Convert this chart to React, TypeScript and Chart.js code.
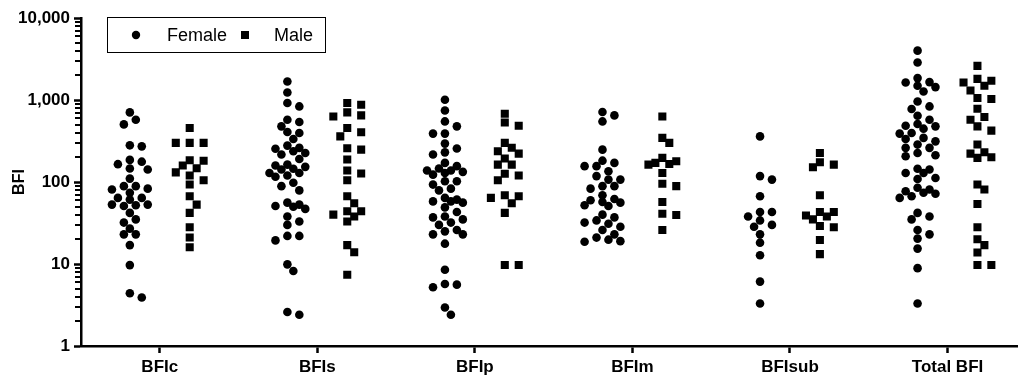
import React, { useEffect, useRef } from 'react';
import { Chart, registerables } from 'chart.js';

Chart.register(...registerables);

const categories = ['BFIc', 'BFIs', 'BFIp', 'BFIm', 'BFIsub', 'Total BFI'];
const yTickLabels = ['1', '10', '100', '1,000', '10,000'];

const femaleBFIc = [706, 575, 504, 280, 272, 186, 177, 165, 146, 142, 110, 89, 89, 83, 81, 74, 64, 64, 61, 53, 53, 52, 51, 42, 35, 32, 27, 23, 23, 17, 9.7, 4.4, 3.9];
const maleBFIc = [456, 300, 300, 300, 184, 182, 159, 147, 131, 120, 105, 93, 67, 53, 42, 28, 21, 16];

const femaleBFIs = [1683, 1236, 918, 835, 575, 540, 477, 407, 396, 335, 278, 261, 254, 237, 226, 216, 191, 163, 159, 153, 145, 142, 129, 129, 120, 116, 98, 89, 79, 56, 53, 51, 50, 47, 38, 33, 30, 22, 22, 19.4, 9.9, 8.2, 2.6, 2.4];
const maleBFIs = [918, 875, 706, 649, 630, 456, 404, 360, 258, 248, 188, 138, 127, 105, 67, 55, 44, 44, 40, 38, 33, 17, 13.9, 7.4];

const femaleBFIp = [1007, 746, 548, 477, 389, 389, 294, 256, 230, 216, 171, 156, 146, 138, 138, 133, 129, 123, 102, 102, 93, 83, 79, 64, 61, 58, 58, 56, 49, 43, 38, 37, 35, 32, 30, 26, 25, 23, 23, 17.7, 8.5, 5.7, 5.6, 5.2, 2.95, 2.4];
const maleBFIp = [680, 533, 486, 300, 261, 237, 222, 193, 163, 163, 126, 120, 105, 69, 67, 64, 55, 42, 9.7, 9.7];

const femaleBFIm = [713, 649, 548, 248, 182, 171, 156, 156, 135, 118, 107, 107, 89, 89, 83, 69, 62, 60, 57, 56, 52, 51, 40, 37, 34, 32, 31, 28.5, 26, 23, 21, 19.8, 19, 18.7];
const maleBFIm = [630, 345, 300, 197, 179, 171, 166, 163, 129, 95, 89, 57, 41, 39.5, 26];

const femaleBFIsub = [360, 118, 107, 67, 43, 43, 38, 34, 30, 28.5, 23, 18.2, 12.8, 6.1, 3.3];
const maleBFIsub = [226, 174, 163, 151, 69, 43, 43, 39, 38, 35, 29, 28, 19.6, 13.2];

const femaleTotal = [4000, 2862, 1850, 1652, 1636, 1489, 1437, 1270, 960, 835, 776, 643, 575, 510, 486, 477, 447, 396, 389, 345, 335, 313, 286, 261, 261, 226, 212, 206, 145, 142, 129, 129, 112, 109, 85, 81, 77, 74, 72, 67, 64, 42, 38, 35, 26, 23, 20.4, 15.4, 8.9, 3.3];
const maleTotal = [2606, 1811, 1714, 1636, 1489, 1306, 1055, 1026, 783, 620, 575, 477, 423, 286, 230, 222, 200, 197, 93, 81, 54, 28, 20, 17, 13.8, 9.7, 9.7];

const femaleGroups = [femaleBFIc, femaleBFIs, femaleBFIp, femaleBFIm, femaleBFIsub, femaleTotal];
const maleGroups = [maleBFIc, maleBFIs, maleBFIp, maleBFIm, maleBFIsub, maleTotal];

const FONT = '"Liberation Sans", Arial, Helvetica, sans-serif';

// Deterministic beeswarm spread (pixel-ish units) converted to category units
const PX_PER_DECADE = 82;
const PX_PER_CAT = 158.5;
function swarm(values: number[], center: number, step: number, diam: number, maxSteps: number) {
  const idx = values.map((v, i) => i).sort((a, b) => values[b] - values[a]);
  const placed: { dx: number; y: number }[] = [];
  const out: { x: number; y: number }[] = [];
  for (const i of idx) {
    const y = Math.log10(values[i]) * PX_PER_DECADE;
    let chosen = 0;
    let bestScore = -1;
    for (let k = 0; k <= maxSteps * 2; k++) {
      const m = k === 0 ? 0 : (k % 2 === 1 ? (k + 1) / 2 : -k / 2);
      const dx = m * step;
      let minD = Infinity;
      for (const p of placed) {
        const ddx = dx - p.dx;
        const ddy = y - p.y;
        minD = Math.min(minD, Math.sqrt(ddx * ddx + ddy * ddy));
      }
      if (minD >= diam) { chosen = dx; break; }
      if (minD > bestScore) { bestScore = minD; chosen = dx; }
    }
    placed.push({ dx: chosen, y });
    out.push({ x: center + chosen / PX_PER_CAT, y: values[i] });
  }
  return out;
}

const legendPlugin = {
  id: 'boxLegend',
  afterDraw(chart: any) {
    const ctx = chart.ctx;
    ctx.save();
    ctx.strokeStyle = '#000';
    ctx.lineWidth = 1;
    ctx.strokeRect(107.5, 17.5, 218, 35);
    const cy = 35;
    ctx.fillStyle = '#000';
    ctx.beginPath();
    ctx.arc(136, cy, 4.2, 0, Math.PI * 2);
    ctx.fill();
    ctx.fillRect(241, cy - 4, 8, 8);
    ctx.font = `18px ${FONT}`;
    ctx.textBaseline = 'middle';
    ctx.textAlign = 'left';
    ctx.fillText('Female', 167, cy + 1);
    ctx.fillText('Male', 274, cy + 1);
    ctx.restore();
  },
};

// Minor log ticks on the y axis (2..9 in each decade)
const minorTickPlugin = {
  id: 'minorTicks',
  afterDraw(chart: any) {
    const y = chart.scales.y;
    const ctx = chart.ctx;
    const x0 = chart.chartArea.left;
    ctx.save();
    ctx.fillStyle = '#000';
    for (let d = 0; d < 4; d++) {
      for (let s = 2; s <= 9; s++) {
        const v = s * Math.pow(10, d);
        const py = Math.round(y.getPixelForValue(v));
        ctx.fillRect(x0 - 6, py - 1, 6, 2);
      }
    }
    ctx.restore();
  },
};

export default function App() {
  const ref = useRef<HTMLCanvasElement>(null);
  useEffect(() => {
    document.body.style.margin = '0';
    const femaleData: any[] = [];
    const maleData: any[] = [];
    femaleGroups.forEach((g, i) => femaleData.push(...swarm(g, i - 0.19, 6, 8, 3)));
    maleGroups.forEach((g, i) => maleData.push(...swarm(g, i + 0.19, 7, 8.5, 2)));
    const isMajor = (v: number) => Math.abs(Math.log10(v) - Math.round(Math.log10(v))) < 1e-9;
    const chart = new Chart(ref.current!, {
      type: 'scatter',
      data: {
        datasets: [
          {
            label: 'Female',
            data: femaleData,
            pointStyle: 'circle',
            pointRadius: 4.3,
            backgroundColor: '#000',
            borderColor: '#000',
            borderWidth: 0,
          },
          {
            label: 'Male',
            data: maleData,
            pointStyle: 'rect',
            pointRadius: 5.7,
            backgroundColor: '#000',
            borderColor: '#000',
            borderWidth: 0,
          },
        ],
      },
      options: {
        animation: false,
        responsive: false,
        layout: { padding: { top: 18, right: 0, left: 0, bottom: 0 } },
        plugins: { legend: { display: false }, tooltip: { enabled: false } },
        scales: {
          x: {
            type: 'linear',
            min: -0.5,
            max: 5.443,
            afterBuildTicks: (scale: any) => {
              scale.ticks = categories.map((c, i) => ({ value: i }));
            },
            afterFit: (scale: any) => { scale.height = 36; },
            ticks: {
              callback: (v: any) => categories[Math.round(Number(v))] ?? '',
              color: '#000',
              font: { family: FONT, size: 17, weight: 'bold' },
              padding: 4,
              maxRotation: 0,
              autoSkip: false,
            },
            grid: {
              display: true,
              drawOnChartArea: false,
              tickLength: 7,
              tickWidth: 2.5,
              tickColor: '#000',
            },
            border: { display: true, color: '#000', width: 2.5 },
          },
          y: {
            type: 'logarithmic',
            min: 1,
            max: 10000,
            afterBuildTicks: (scale: any) => {
              scale.ticks = yTickLabels.map((t, i) => ({ value: Math.pow(10, i), major: true }));
            },
            afterFit: (scale: any) => { scale.width = 81; },
            ticks: {
              autoSkip: false,
              color: '#000',
              font: { family: FONT, size: 17, weight: 'bold' },
              padding: 4,
              callback: (v: any) => {
                const n = Number(v);
                if (!isMajor(n)) return '';
                return yTickLabels[Math.round(Math.log10(n))];
              },
            },
            grid: {
              display: true,
              drawOnChartArea: false,
              tickLength: 7,
              tickColor: '#000',
              tickWidth: 2.5,
            },
            border: { display: true, color: '#000', width: 2.5 },
            title: {
              display: true,
              text: 'BFI',
              color: '#000',
              font: { family: FONT, size: 16, weight: 'bold' },
              padding: { top: 10, bottom: 0 },
            },
          },
        },
      },
      plugins: [legendPlugin, minorTickPlugin],
    } as any);
    return () => chart.destroy();
  }, []);
  return <canvas ref={ref} width={1023} height={382} style={{ display: 'block' }} />;
}
